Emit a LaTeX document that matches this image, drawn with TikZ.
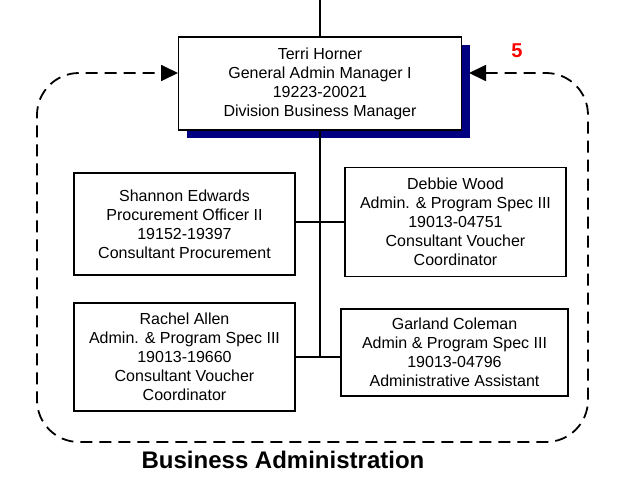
\documentclass[tikz,border=0pt]{standalone}
\usepackage{fontspec}
\setmainfont{Liberation Sans}
\usetikzlibrary{arrows.meta,positioning,shadows}
\definecolor{sotetkek}{RGB}{0,0,128}
\tikzset{
  tag/.style={draw,line width=1.8pt,fill=white,align=center,inner sep=0pt,
    font=\fontsize{16}{19}\selectfont},
  vezeto/.style={tag,drop shadow={fill=sotetkek,opacity=1,shadow xshift=8pt,shadow yshift=-8pt}},
  kot/.style={line width=1.8pt},
  keret/.style={line width=1.8pt,dash pattern=on 12pt off 7pt,rounded corners=42pt},
  nyil/.style={{Triangle[length=17pt,width=16pt]}-{Triangle[length=17pt,width=16pt]}},
}

\begin{document}
\begin{tikzpicture}[x=1pt,y=-1pt]
  \useasboundingbox (0,0) rectangle (618,482);
  \coordinate (fent) at (320,0);
  \node[vezeto,minimum width=283pt,minimum height=93pt] (terri) at (320,83.5)
    {Terri Horner\\General Admin Manager I\\19223-20021\\Division Business Manager};
  \node[tag,minimum width=221pt,minimum height=102pt] (shannon) at (184.5,224)
    {Shannon Edwards\\Procurement Officer II\\19152-19397\\Consultant Procurement};
  \node[tag,minimum width=221pt,minimum height=109pt] (debbie) at (455.5,222)
    {Debbie Wood\\Admin. \& Program Spec III\\19013-04751\\Consultant Voucher\\Coordinator};
  \node[tag,minimum width=221pt,minimum height=108pt] (rachel) at (184.5,357)
    {Rachel Allen\\Admin. \& Program Spec III\\19013-19660\\Consultant Voucher\\Coordinator};
  \node[tag,minimum width=227pt,minimum height=87pt] (garland) at (454.5,352.5)
    {Garland Coleman\\Admin \& Program Spec III\\19013-04796\\Administrative Assistant};
  % vonalak
  \draw[kot] (fent) -- (terri.north);
  \draw[kot] (terri.south) -- (terri.south |- rachel.east);
  \draw[kot] (debbie.west) -- (debbie.west -| shannon.east);
  \draw[kot] (rachel.east) -- (rachel.east -| garland.west);
  % keret
  \coordinate (bal) at (178,73);
  \coordinate (jobb) at (469,73);
  \draw[keret,nyil] (jobb) -- (588,73) -- (588,442) -- (37,442) -- (37,73) -- (bal);
  \node[font=\bfseries\fontsize{20}{24}\selectfont,text=red,anchor=base] (szam) at (517,57) {5};
  \node[font=\bfseries\fontsize{24}{28}\selectfont,anchor=base] (cim) at (283,468) {Business Administration};
\end{tikzpicture}
\end{document}
